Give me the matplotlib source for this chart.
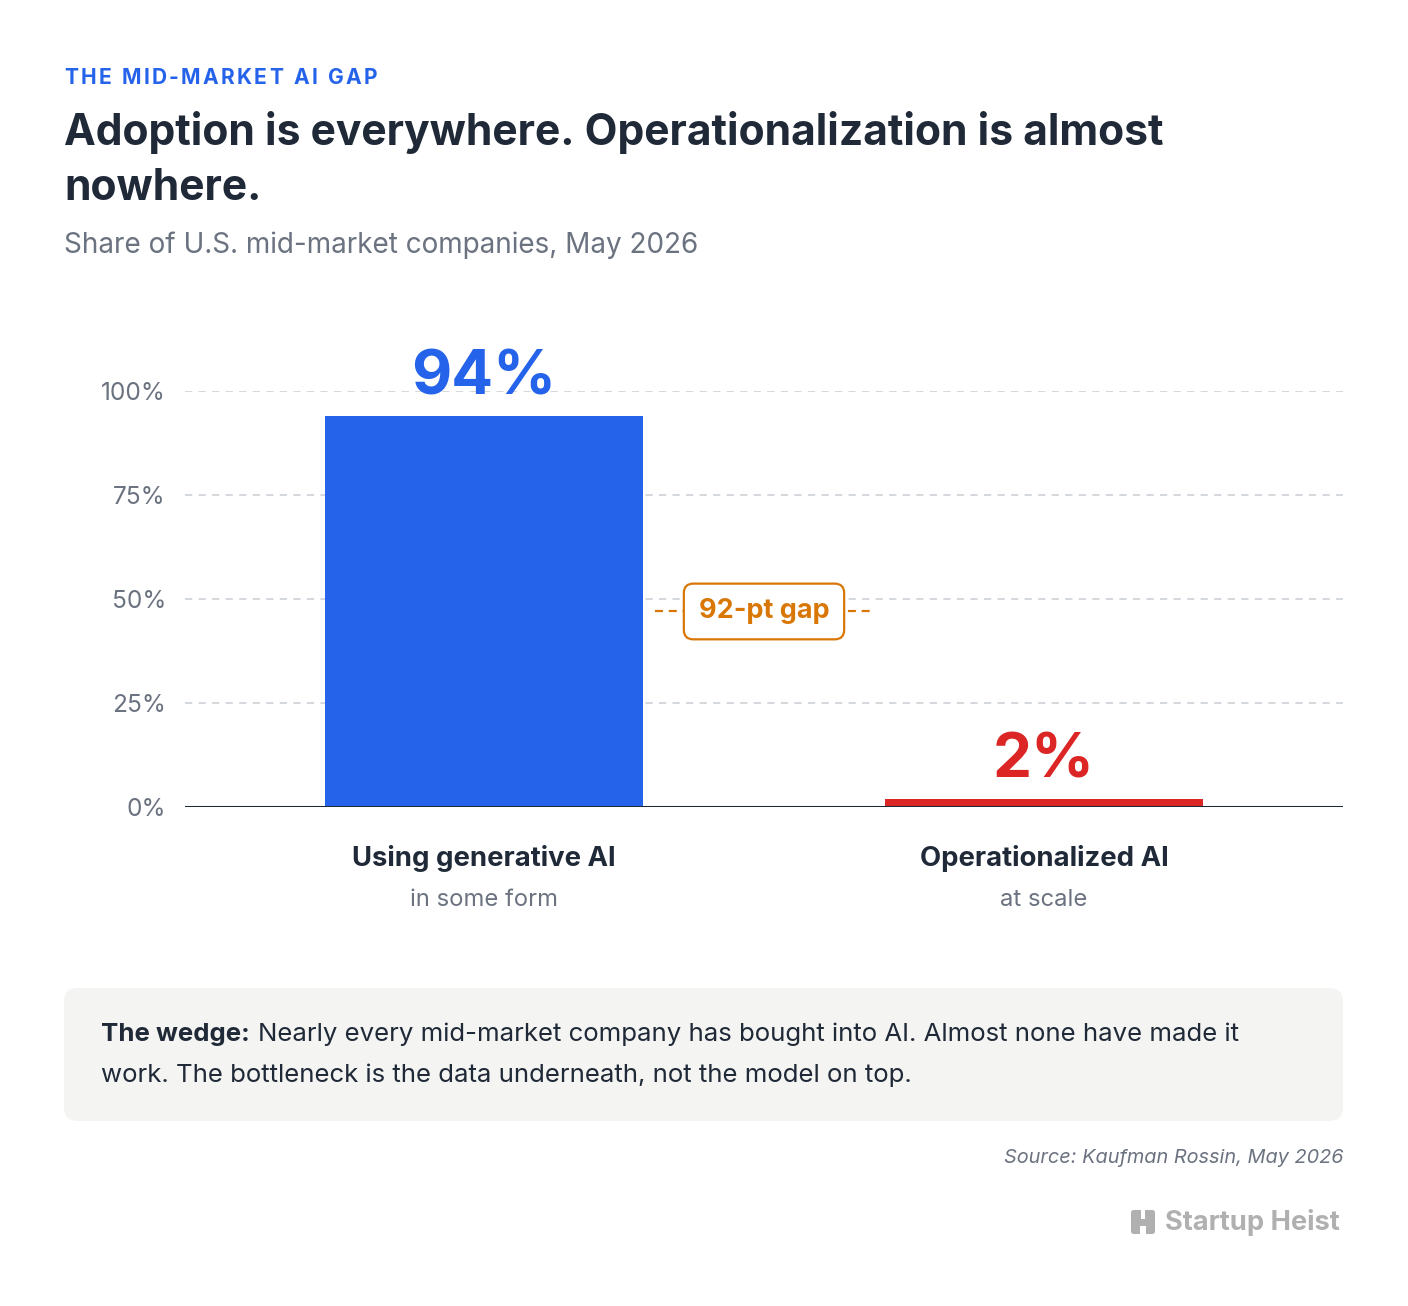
import matplotlib
matplotlib.use("Agg")
import matplotlib.pyplot as plt
from matplotlib.patches import FancyBboxPatch, Rectangle

plt.rcParams['font.family'] = ['Inter', 'DejaVu Sans']

# ---- data ----
categories = ["Using generative AI", "Operationalized AI"]
subcats = ["in some form", "at scale"]
values = [94, 2]
value_labels = ["94%", "2%"]
yticks = [0, 25, 50, 75, 100]
ytick_labels = ["0%", "25%", "50%", "75%", "100%"]
gap_label = "92-pt gap"
kicker = "THE MID-MARKET AI GAP"

BLUE = "#2563eb"
RED = "#dc2626"
ORANGE = "#d97706"
DARK = "#1f2937"
GRAY = "#6b7280"
GRID = "#d1d5db"

W, H = 1408, 1306
fig = plt.figure(figsize=(W / 100, H / 100), dpi=100)
fig.patch.set_facecolor("white")
renderer = fig.canvas.get_renderer()

def fx(x):
    return x / W

def fy(y):
    return 1 - y / H

def px(p):  # pixel -> points
    return p * 72 / 100

# header: letter-spaced kicker
xcur = 64.0
spacing = 2.3
for ch in kicker:
    t = fig.text(fx(xcur), fy(78), ch, color=BLUE, fontsize=px(21),
                 fontweight="bold", va="center", ha="left")
    if ch == " ":
        w = px(21) * 100 / 72 * 0.28
    else:
        w = t.get_window_extent(renderer).width
    xcur += w + spacing

fig.text(fx(64), fy(133), "Adoption is everywhere. Operationalization is almost",
         color=DARK, fontsize=px(42.6), fontweight="bold", va="center", ha="left")
fig.text(fx(64), fy(189), "nowhere.", color=DARK, fontsize=px(42.6),
         fontweight="bold", va="center", ha="left")
fig.text(fx(64), fy(245), "Share of U.S. mid-market companies, May 2026",
         color=GRAY, fontsize=px(27.9), va="center", ha="left")

# axes
ax = fig.add_axes([fx(185), fy(807), (1343 - 185) / W, (807 - 391) / H])
ax.set_xlim(-0.534, 1.534)
ax.set_ylim(0, 100)
for s in ax.spines.values():
    s.set_visible(False)
ax.set_yticks(yticks)
ax.set_yticklabels(ytick_labels)
ax.tick_params(axis="y", length=0, pad=px(19), labelsize=px(24.5), labelcolor=GRAY)
ax.set_xticks([])
for t in yticks[1:]:
    ax.axhline(t, color=GRID, lw=1.3, dashes=(4, 3.5), zorder=0)
ax.axhline(0, color=DARK, lw=2.2, zorder=4)

colors = [BLUE, RED]
xs = list(range(len(categories)))
ax.bar(xs, values, width=0.568, color=colors, zorder=3)

for x, v, lab, c in zip(xs, values, value_labels, colors):
    ax.annotate(lab, (x, v), xytext=(0, 6), textcoords="offset points",
                ha="center", va="bottom", fontsize=px(62), fontweight="bold",
                color=c, annotation_clip=False)

for x, cat, sub in zip(xs, categories, subcats):
    ax.annotate(cat, (x, 0), xytext=(0, -px(52)), textcoords="offset points",
                ha="center", va="center", fontsize=px(27.5), fontweight="bold",
                color=DARK, annotation_clip=False)
    ax.annotate(sub, (x, 0), xytext=(0, -px(93)), textcoords="offset points",
                ha="center", va="center", fontsize=px(23.8), color=GRAY,
                annotation_clip=False)

# gap annotation
mid_y = (values[0] + values[1]) / 2 - 1
ax.plot([0.305, 0.693], [mid_y, mid_y], color=ORANGE, lw=1.6, dashes=(3.6, 2.6),
        zorder=5, clip_on=False)
ax.text(0.5, mid_y, gap_label, ha="center", va="center", fontsize=px(27),
        fontweight="bold", color=ORANGE, zorder=6,
        bbox=dict(boxstyle="round,pad=0.55,rounding_size=0.35", fc="white",
                  ec=ORANGE, lw=1.6))

# footer box
box = FancyBboxPatch((fx(64), fy(1121)), fx(1343) - fx(64), fy(988) - fy(1121),
                     boxstyle="round,pad=0,rounding_size=0.01",
                     transform=fig.transFigure, fc="#f4f4f2", ec="none")
fig.patches.append(box)
FS = px(25.8)
tb = fig.text(fx(101), fy(1034), "The wedge:", color=DARK, fontsize=FS,
              fontweight="bold", va="center", ha="left")
bw = tb.get_window_extent(renderer).width
fig.text(fx(101 + bw + 8), fy(1034),
         "Nearly every mid-market company has bought into AI. Almost none have made it",
         color=DARK, fontsize=FS, va="center", ha="left")
fig.text(fx(101), fy(1075),
         "work. The bottleneck is the data underneath, not the model on top.",
         color=DARK, fontsize=FS, va="center", ha="left")

fig.text(fx(1343), fy(1158), "Source: Kaufman Rossin, May 2026", color=GRAY,
         fontsize=px(19.9), style="italic", va="center", ha="right")

# logo
LG = "#b0b0b0"
fig.text(fx(1340), fy(1222), "Startup Heist", color=LG, fontsize=px(27.3),
         fontweight="bold", va="center", ha="right")
icon = FancyBboxPatch((fx(1131), fy(1234)), fx(24), 24 / H,
                      boxstyle="round,pad=0,rounding_size=0.002",
                      transform=fig.transFigure, fc=LG, ec="none")
fig.patches.append(icon)
fig.patches.append(Rectangle((fx(1141), fy(1219)), fx(4), 11 / H,
                             transform=fig.transFigure, fc="white", ec="none"))
fig.patches.append(Rectangle((fx(1140), fy(1234)), fx(6), 8 / H,
                             transform=fig.transFigure, fc="white", ec="none"))

fig.savefig("out.png", dpi=100, facecolor="white")
